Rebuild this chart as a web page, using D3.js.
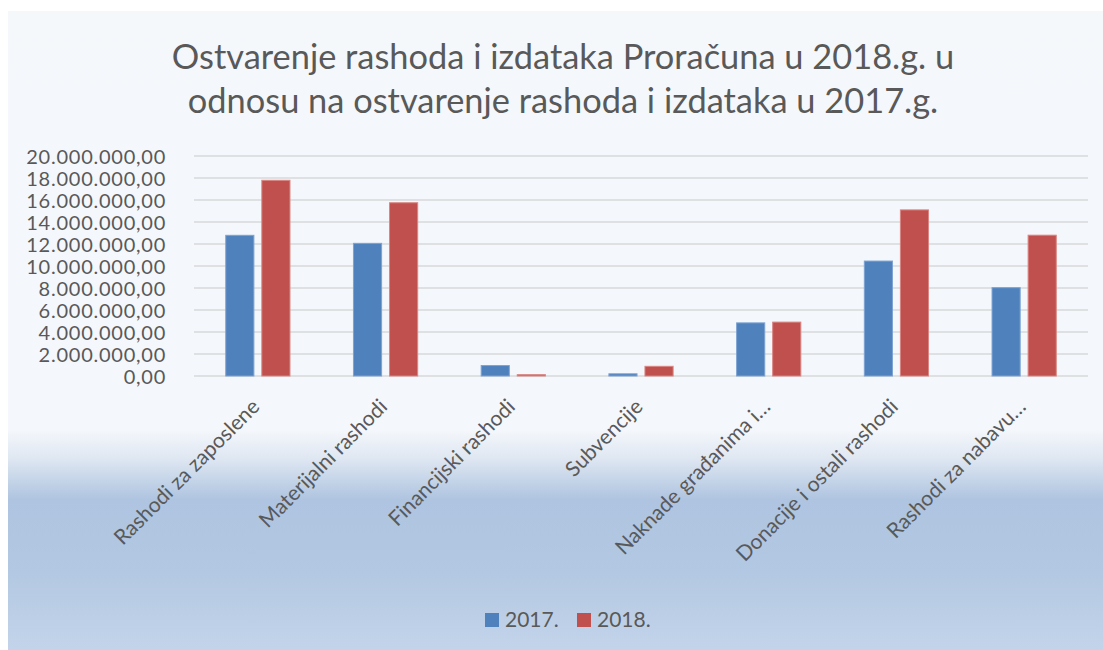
<!DOCTYPE html>
<html>
<head>
<meta charset="utf-8">
<script src="https://cdn.jsdelivr.net/npm/d3@7"></script>
<style>
	body { margin:0; background:#fff; }
	svg text { font-family: Lato, "Open Sans", sans-serif; fill:#595959; }
</style>
</head>
<body>
<div id="chart"></div>
<script>
var categories = ["Rashodi za zaposlene", "Materijalni rashodi", "Financijski rashodi", "Subvencije", "Naknade građanima i…", "Donacije i ostali rashodi", "Rashodi za nabavu…"];
var seriesNames = ["2017.", "2018."];
var values2017 = [12790000, 12060000, 950000, 200000, 4830000, 10450000, 8030000];
var values2018 = [17790000, 15750000, 120000, 880000, 4900000, 15100000, 12800000];
var tickValues = [0, 2000000, 4000000, 6000000, 8000000, 10000000, 12000000, 14000000, 16000000, 18000000, 20000000];
var colors = ["#4f81bd", "#c0504d"];
var strokes = ["#7da3d3", "#d98583"];
var titleLines = ["Ostvarenje rashoda i izdataka Proračuna u 2018.g. u", "odnosu na ostvarenje rashoda i izdataka u 2017.g."];

var width = 1103, height = 650;
var plot = {left:194, right:1088, top:156, bottom:376};

var hr = d3.formatLocale({decimal:",", thousands:".", grouping:[3], currency:["", ""]});
var fmt = hr.format(",.2f");

var svg = d3.select('#chart').append('svg')
	.attr('width', width)
	.attr('height', height);

//background gradient like the office "light gradient" fill
var grad = svg.append('defs').append('linearGradient')
	.attr('id', 'bg')
	.attr('gradientUnits', 'userSpaceOnUse')
	.attr('x1', 0).attr('y1', 11)
	.attr('x2', 0).attr('y2', 650);
[[0, "#f5f8fb"], [0.656, "#f4f7fb"], [0.70, "#dfe7f2"], [0.765, "#aec4e0"], [0.88, "#b3c8e2"], [1, "#c3d4ea"]].forEach(function(s) {
	grad.append('stop').attr('offset', s[0]).attr('stop-color', s[1]);
});

svg.append('rect')
	.attr('x', 8).attr('y', 11)
	.attr('width', width - 8).attr('height', height - 11)
	.attr('fill', 'url(#bg)');

//title
svg.append('g').selectAll('text')
	.data(titleLines)
	.enter().append('text')
	.attr('x', 563)
	.attr('y', function(d, i) { return 69 + i * 44; })
	.attr('text-anchor', 'middle')
	.style('font-size', '34.4px')
	.text(function(d) { return d; });

var y = d3.scaleLinear()
	.domain([0, 20000000])
	.range([plot.bottom, plot.top]);

var x0 = d3.scaleBand()
	.domain(categories)
	.range([plot.left, plot.right]);

var x1 = d3.scaleBand()
	.domain(seriesNames)
	.range([0, x0.bandwidth()])
	.paddingInner(0.22)
	.paddingOuter(0.88);

//gridlines
svg.append('g').selectAll('line')
	.data(tickValues)
	.enter().append('line')
	.attr('x1', plot.left).attr('x2', plot.right)
	.attr('y1', function(d) { return y(d); })
	.attr('y2', function(d) { return y(d); })
	.style('stroke', '#d9d9d9')
	.style('stroke-width', 1.5);

//y axis labels (letter-spacing widens them w/o making them taller)
var yAxis = d3.axisLeft(y)
	.tickValues(tickValues)
	.tickFormat(fmt)
	.tickSize(0)
	.tickPadding(0);
var yg = svg.append('g')
	.attr('transform', 'translate(166,0)')
	.call(yAxis);
yg.select('.domain').remove();
yg.selectAll('text')
	.attr('dy', '0.36em')
	.style('font-size', '20px')
	.style('letter-spacing', '0.75px')
	.style('font-family', 'Lato, sans-serif')
	.style('fill', '#595959');

//bars
var series = [values2017, values2018];
var groups = svg.append('g').selectAll('g')
	.data(categories)
	.enter().append('g')
	.attr('transform', function(d) { return 'translate(' + x0(d) + ',0)'; });

groups.selectAll('rect')
	.data(function(d, i) { return seriesNames.map(function(s, k) { return {s:s, k:k, v:series[k][i]}; }); })
	.enter().append('rect')
	.attr('x', function(d) { return x1(d.s); })
	.attr('width', x1.bandwidth())
	.attr('y', function(d) { return y(d.v); })
	.attr('height', function(d) { return plot.bottom - y(d.v); })
	.attr('fill', function(d) { return colors[d.k]; })
	.attr('stroke', function(d) { return strokes[d.k]; })
	.attr('stroke-width', 1);

//category labels, rotated
svg.append('g').selectAll('text')
	.data(categories)
	.enter().append('text')
	.attr('transform', function(d) {
		var cx = x0(d) + x0.bandwidth() / 2 + 3;
		return 'translate(' + cx + ',' + (plot.bottom + 32) + ') rotate(-45)';
	})
	.attr('text-anchor', 'end')
	.style('font-size', '21px')
	.text(function(d) { return d; });

//legend
var legend = svg.append('g').selectAll('g')
	.data(seriesNames)
	.enter().append('g')
	.attr('transform', function(d, i) { return 'translate(' + (485 + i * 92) + ',613)'; });
legend.append('rect')
	.attr('width', 14).attr('height', 14)
	.attr('fill', function(d, i) { return colors[i]; });
legend.append('text')
	.attr('x', 20).attr('y', 14)
	.style('font-size', '21px')
	.text(function(d) { return d; });
</script>
</body>
</html>
